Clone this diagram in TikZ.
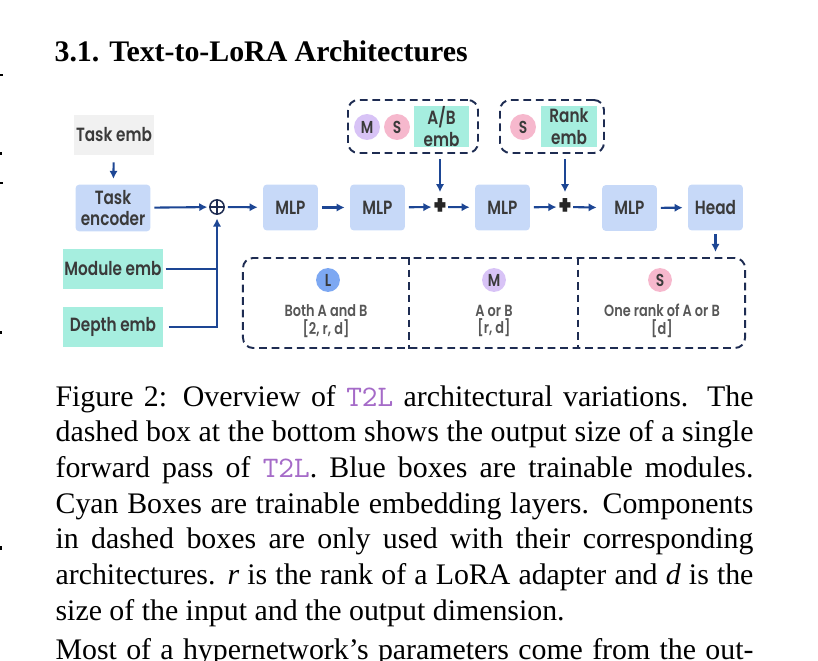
\documentclass[tikz,border=0pt]{standalone}
\usepackage{fontspec}
\setmainfont{Liberation Serif}
\newfontfamily\figfont{Poppins SemiBold}[FakeStretch=0.8]
\usetikzlibrary{arrows.meta}
\definecolor{encblue}{HTML}{C7D9F8}
\definecolor{embcyan}{HTML}{A6EEDF}
\definecolor{embgray}{HTML}{F1F1F1}
\definecolor{arrblue}{HTML}{1D4694}
\definecolor{dashnavy}{HTML}{1E2C52}
\definecolor{figtext}{HTML}{3A3A3A}
\definecolor{lbltext}{HTML}{575757}
\definecolor{lblue}{HTML}{7DA8F2}
\definecolor{mpurple}{HTML}{D8C3F6}
\definecolor{spink}{HTML}{F6B8CD}
\definecolor{codepurple}{HTML}{A56BC8}
\newcommand{\tname}{\textcolor{codepurple}{\texttt{T2L}}}
\newcommand{\capline}[1]{\makebox[233.8pt][s]{#1}}

\begin{document}
\begin{tikzpicture}
[x=0.335pt,y=-0.335pt,
 blk/.style={rectangle,rounded corners=1.3pt,fill=encblue,minimum width=18.4pt,minimum height=15.4pt,inner sep=0pt,align=center,text=figtext,font=\figfont\fontsize{6.4pt}{7.1pt}\selectfont},
 emb/.style={blk,fill=embcyan,rounded corners=0pt,minimum width=33.5pt,minimum height=13.4pt},
 tag/.style={circle,minimum size=8.7pt,inner sep=0pt,text=figtext,font=\figfont\fontsize{5.8pt}{6pt}\selectfont},
 lbl/.style={align=center,inner sep=0pt,text=lbltext,font=\figfont\fontsize{5.4pt}{5.9pt}\selectfont},
 pls/.style={minimum size=4.5pt,inner sep=0pt,text=black!85,font=\figfont\bfseries\fontsize{9pt}{9pt}\selectfont},
 dbox/.style={draw=dashnavy,line width=0.65pt,dash pattern=on 2.6pt off 1.6pt,rounded corners=3.4pt,inner sep=0pt},
 dv/.style={draw=dashnavy,line width=0.65pt,dash pattern=on 2.6pt off 1.6pt},
 ln/.style={draw=arrblue,line width=0.7pt},
 arr/.style={ln,-{Latex[length=2.7pt,width=2.8pt]},shorten <=1.1pt,shorten >=1.6pt},
 txt/.style={anchor=base west,inner sep=0pt,font=\fontsize{10pt}{12pt}\selectfont}]
\useasboundingbox (0,0) rectangle (818,661);
% bits of the other column
\fill (0,74) rectangle (3,76);
\fill (0,152) rectangle (2,155);
\fill (0,182) rectangle (3,184);
\fill (0,331) rectangle (2,334);
\fill (0,546) rectangle (2,550);
% heading
\node[txt,font=\bfseries\fontsize{10pt}{12pt}\selectfont] (title) at (54,62) {3.1. Text-to-LoRA Architectures};
% optional embeddings
\node[dbox,minimum width=43.55pt,minimum height=17.76pt] (grpab) at (413,126.5) {};
\node[tag,fill=mpurple] (ma) at (367,127) {M};
\node[tag,fill=spink] (sa) at (397,127) {S};
\node[emb,minimum width=18.4pt,minimum height=13.7pt] (abemb) at (441.5,126.5) {A/B\\emb};
\node[dbox,minimum width=34.84pt,minimum height=17.76pt] (grprk) at (552,126.5) {};
\node[tag,fill=spink] (sb) at (523,127) {S};
\node[emb,minimum width=18.8pt,minimum height=13.7pt] (rkemb) at (569,126.5) {Rank\\emb};
% main row
\node[blk,fill=embgray,rounded corners=0pt,minimum width=26.8pt,minimum height=13.4pt] (taskemb) at (114,135) {Task emb};
\node[blk,minimum width=25.1pt,minimum height=15.7pt] (taskenc) at (113,208) {Task\\encoder};
\node[circle,draw=dashnavy,line width=0.5pt,minimum size=4.8pt,inner sep=0pt,
  path picture={\draw[dashnavy,line width=0.5pt] (path picture bounding box.north) -- (path picture bounding box.south)
  (path picture bounding box.west) -- (path picture bounding box.east);}] (sum) at (217,207) {};
\node[blk] (mlpa) at (290.5,207.5) {MLP};
\node[blk] (mlpb) at (377.5,207.5) {MLP};
\node[pls] (plusa) at (440,207) {+};
\node[blk] (mlpc) at (502.5,207.5) {MLP};
\node[pls] (plusb) at (565,207) {+};
\node[blk] (mlpd) at (629.5,208) {MLP};
\node[blk] (head) at (715.5,207.5) {Head};
\node[emb] (modemb) at (113,269) {Module emb};
\node[emb] (depemb) at (113,327) {Depth emb};
% output size
\node[dbox,minimum width=168.2pt,minimum height=30.15pt] (out) at (494,303) {};
\coordinate (cuta) at (409,303);
\coordinate (cutb) at (578,303);
\draw[dv] (cuta |- out.north) -- (cuta |- out.south);
\draw[dv] (cutb |- out.north) -- (cutb |- out.south);
\node[tag,fill=lblue,minimum size=8pt] (tl) at (328,280) {L};
\node[tag,fill=mpurple,minimum size=8pt] (tm) at (494,280) {M};
\node[tag,fill=spink,minimum size=8pt] (ts) at (660,280) {S};
\node[lbl] (la) at (326,321) {Both A and B\\{[2, r, d]}};
\node[lbl] (lm) at (494,321) {A or B\\{[r, d]}};
\node[lbl] (ls) at (662,321) {One rank of A or B\\{[d]}};
% connectors
\draw[arr,shorten <=2.3pt,shorten >=1.7pt] (taskemb) -- (taskenc);
\draw[arr,shorten >=0.6pt] (taskenc) -- (sum);
\draw[arr,shorten <=1pt] (sum) -- (mlpa);
\draw[arr] (mlpa) -- (mlpb);
\draw[arr,shorten >=0.4pt] (mlpb) -- (plusa);
\draw[arr,shorten <=0.3pt] (plusa) -- (mlpc);
\draw[arr,shorten >=0.4pt] (mlpc) -- (plusb);
\draw[arr,shorten <=0.3pt] (plusb) -- (mlpd);
\draw[arr] (mlpd) -- (head);
\draw[arr,shorten <=1.7pt,shorten >=2.1pt] (plusa |- grpab.south) -- (plusa);
\draw[arr,shorten <=1.7pt,shorten >=2.1pt] (plusb |- grprk.south) -- (plusb);
\draw[arr,shorten <=1pt,shorten >=1.7pt] (head) -- (head |- out.north);
\draw[ln,shorten <=0.7pt] (modemb.east) -- (modemb.east -| sum);
\draw[arr,shorten <=1.7pt,shorten >=1.2pt] (depemb.east) -| (sum);
% caption
\node[txt] (capa) at (55,406) {\capline{Figure 2: Overview of \tname{} architectural variations. The}};
\node[txt] (capb) at (55,441.7) {\capline{dashed box at the bottom shows the output size of a single}};
\node[txt] (capc) at (55,477.4) {\capline{forward pass of \tname. Blue boxes are trainable modules.}};
\node[txt] (capd) at (55,513.1) {\capline{Cyan Boxes are trainable embedding layers. Components}};
\node[txt] (cape) at (55,548.8) {\capline{in dashed boxes are only used with their corresponding}};
\node[txt] (capf) at (55,584.5) {\capline{architectures. \textit{r} is the rank of a LoRA adapter and \textit{d} is the}};
\node[txt] (capg) at (55,620.2) {size of the input and the output dimension.};
\node[txt] (body) at (55,659) {\capline{Most of a hypernetwork’s parameters come from the out-}};
\end{tikzpicture}
\end{document}
